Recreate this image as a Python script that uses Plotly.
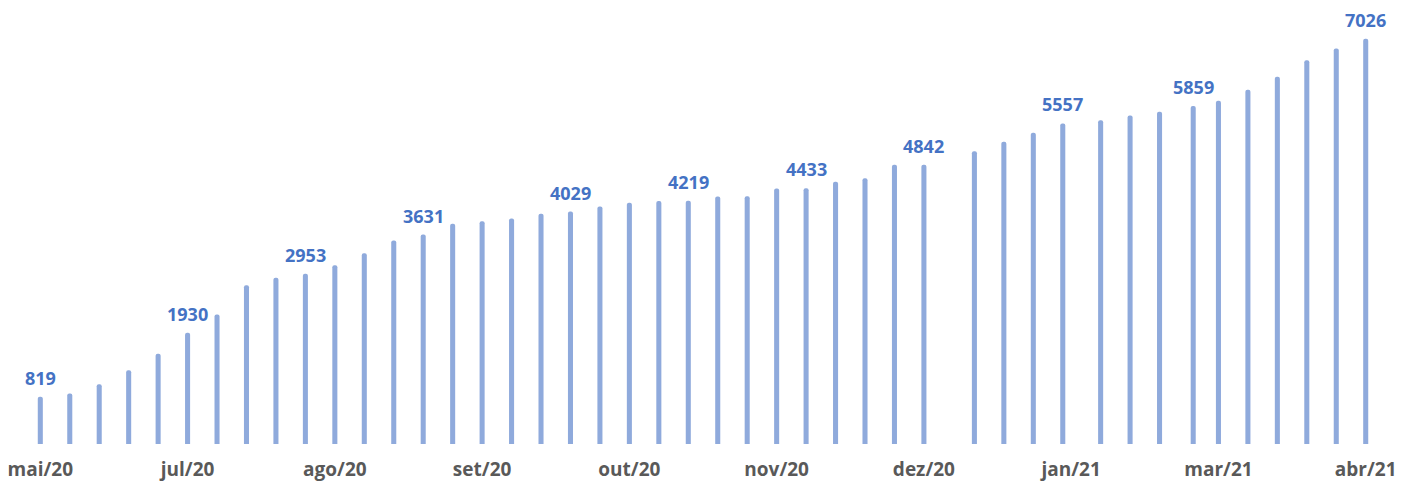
import plotly.graph_objects as go

# Weekly reporting dates (a few weeks are uneven around the turn of the year)
dates = [
    "2020-05-27", "2020-06-03", "2020-06-10", "2020-06-17", "2020-06-24",
    "2020-07-01", "2020-07-08", "2020-07-15", "2020-07-22", "2020-07-29",
    "2020-08-05", "2020-08-12", "2020-08-19", "2020-08-26", "2020-09-02",
    "2020-09-09", "2020-09-16", "2020-09-23", "2020-09-30", "2020-10-07",
    "2020-10-14", "2020-10-21", "2020-10-28", "2020-11-04", "2020-11-11",
    "2020-11-18", "2020-11-25", "2020-12-02", "2020-12-09", "2020-12-16",
    "2020-12-23", "2021-01-04", "2021-01-11", "2021-01-18", "2021-01-25",
    "2021-02-03", "2021-02-10", "2021-02-17", "2021-02-25", "2021-03-03",
    "2021-03-10", "2021-03-17", "2021-03-24", "2021-03-31", "2021-04-07",
]

values = [
    819, 875, 1037, 1279, 1564,
    1930, 2245, 2753, 2881, 2953,
    3100, 3308, 3528, 3631, 3818,
    3863, 3909, 3991, 4029, 4118,
    4182, 4212, 4219, 4291, 4295,
    4430, 4433, 4546, 4608, 4840,
    4842, 5076, 5239, 5395, 5557,
    5614, 5695, 5759, 5859, 5950,
    6141, 6366, 6654, 6857, 7026,
]

# Bars that carry a value label
labelled = [0, 5, 9, 13, 18, 22, 26, 30, 34, 38, 44]

tick_dates = [
    "2020-05-27", "2020-07-01", "2020-08-05", "2020-09-09", "2020-10-14",
    "2020-11-18", "2020-12-23", "2021-01-27", "2021-03-03", "2021-04-07",
]
tick_labels = [
    "mai/20", "jul/20", "ago/20", "set/20", "out/20",
    "nov/20", "dez/20", "jan/21", "mar/21", "abr/21",
]

DAY_MS = 86400000

fig = go.Figure(
    go.Bar(
        x=dates,
        y=values,
        width=[1.2 * DAY_MS] * len(values),
        marker=dict(color="#8FAADC", line=dict(width=0), cornerradius=2),
        hoverinfo="x+y",
    )
)

for i in labelled:
    fig.add_annotation(
        x=dates[i],
        y=values[i],
        text=str(values[i]),
        showarrow=False,
        yanchor="bottom",
        yshift=5,
        font=dict(family="Open Sans", size=18, color="#4472C4", weight=700),
    )

fig.update_layout(
    width=1412,
    height=484,
    margin=dict(l=0, r=0, t=0, b=40),
    paper_bgcolor="white",
    plot_bgcolor="white",
    showlegend=False,
    xaxis=dict(
        type="date",
        range=["2020-05-17 10:05", "2021-04-18 00:00"],
        tickmode="array",
        tickvals=tick_dates,
        ticktext=tick_labels,
        showgrid=False,
        zeroline=False,
        showline=False,
        ticks="",
        ticklabelstandoff=12,
        tickfont=dict(family="Open Sans", size=19, color="#595959", weight=700),
    ),
    yaxis=dict(
        range=[0, 7698],
        visible=False,
        showgrid=False,
        zeroline=False,
    ),
)

fig.write_html("out.html")
